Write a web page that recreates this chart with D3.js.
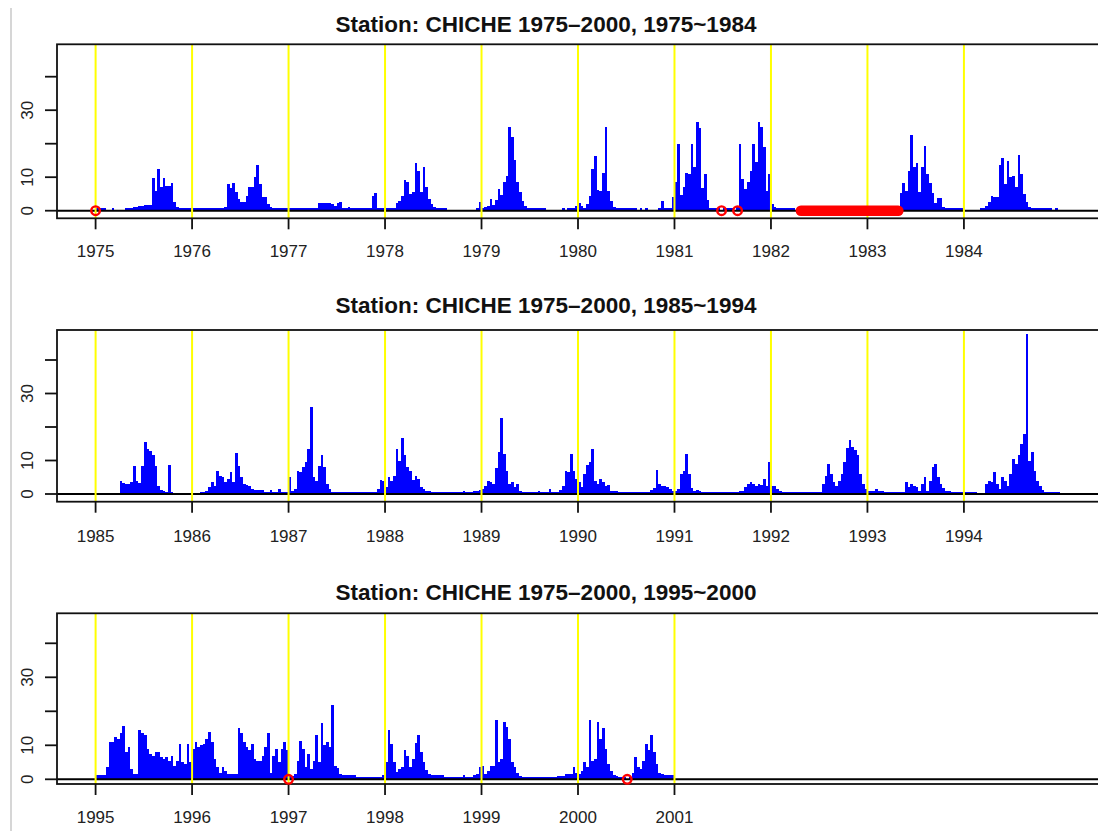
<!DOCTYPE html>
<html><head><meta charset="utf-8">
<script src="https://cdn.jsdelivr.net/npm/d3@7"></script>
<style>html,body{margin:0;padding:0;background:#fff;} svg{display:block;}</style>
</head><body>
<svg id="chart" width="1098" height="831"></svg>
<script>
// ---- data: dekadal (36 per year) rainfall; null = no record ----
const r1975 = [0,0,0,0,null,null,0.6,null,null,null,null,0.5,0.5,0.5,1.0,1.2,1.3,1.5,1.6,1.8,1.8,9.7,6,12.5,7,9.8,7.5,7.5,8.2,2.5,1.2,0.5,0.3,0.3,0.3,0.3];
const r1976 = [0,0,0,0,0,0,0,0,0,0,0.5,0.8,1.0,8.0,6.7,8.2,5.5,3.5,2.5,2.5,4.5,7.0,7.2,10.0,13.7,8.0,4.2,4.0,2.0,1.2,0.8,0.3,0,0,0,0];
const r1977 = [0.4,0.4,0.4,0.4,0.4,0.4,0.4,0.4,0.4,0.4,0.4,2.4,2.4,2.4,2.4,2.3,2.0,1.5,2.2,2.6,0.4,0.4,1.0,0.4,0.4,0.4,0.4,0.4,0.4,0.4,0.4,4.5,5.3,0.3,0.3,0.3];
const r1978 = [0.3,0.3,0.8,0.8,2.2,3.0,4.5,9.2,8.5,5.0,5.5,14.2,12.0,5.5,13.0,7.0,3.5,2.0,1.2,0.8,0.5,0.5,0.4,null,null,null,null,null,null,null,null,null,null,null,0.3,2.5];
const r1979 = [0.5,1.0,1.5,3.6,1.8,3.2,6.5,4.8,8.5,10.5,25.0,22.0,15.0,8.7,5.5,3.0,1.5,0.8,0.5,0.5,0.5,0.5,0.5,0.5,null,null,null,null,null,null,0.5,null,0.4,0.5,0.8,1.5];
const r1980 = [2.2,1.5,0.8,2.0,4.5,12.5,16.4,6.2,6.0,11.4,25.0,6.0,3.0,1.2,0.6,0.4,0.4,0.4,0.4,0.4,0.4,0.2,null,0.3,null,0.3,null,null,null,null,0.3,3.0,0.5,0.5,0.8,4.0];
const r1981 = [8.7,20.0,4.7,7.2,11.4,11.0,20.0,13.0,26.6,24.8,6.7,11.0,3.2,0.8,0.7,0.3,0.3,null,0.3,0.3,0.3,0.3,null,1.0,20.0,9.5,6.5,8.5,12.0,20.0,14.5,26.6,25.0,19.0,6.0,11.0];
const r1982 = [2.0,1.0,0.3,0.3,0.3,0.3,0.3,0.3,0.3,null,null,null,null,null,null,null,null,null,null,null,null,null,null,null,null,null,null,null,null,null,null,null,null,null,null,null];
const r1983 = [null,null,null,null,null,null,null,null,null,null,null,null,5.4,8.4,6.0,12.0,22.6,13.1,14.1,5.7,13.1,19.4,11.1,8.2,5.2,2.2,3.7,3.7,1.2,0.5,0.5,0.5,0.5,0.3,0.3,0.3];
const r1984 = [null,null,null,null,null,null,0.5,0.5,1.5,2.5,4.5,4.0,4.0,13.5,15.8,8.0,14.8,10.0,10.5,7.0,16.5,11.0,5.0,2.5,1.2,0.4,0.4,0.4,0.4,0.4,0.4,0.4,0.3,null,0.8,null];
const r1985 = [null,null,null,null,null,null,null,null,null,3.8,3.2,3.0,3.0,3.5,8.5,4.0,3.2,8.5,15.5,13.5,12.8,11.5,8.3,2.5,1.2,0.8,0.5,8.8,0.4,null,null,null,null,null,null,null];
const r1986 = [null,null,null,0.5,0.5,1.0,2.0,3.5,2.5,7.0,5.5,5.0,3.5,4.5,6.5,3.5,12.2,8.5,5.0,3.0,2.8,2.5,1.5,1.2,1.2,1.2,1.2,0.5,0.5,1.2,0.5,0.5,1.5,0.4,0.4,0.4];
const r1987 = [5.0,1.0,1.5,7.0,6.5,8.0,9.5,13.3,26.1,5.0,4.0,8.5,11.6,8.0,3.0,1.5,0.7,0.4,0.4,0.4,0.4,0.4,0.4,0.4,0.4,0.4,0.4,0.4,0.4,0.4,0.4,0.4,0.4,1.5,4.2,4.0];
const r1988 = [2.0,5.0,4.0,5.5,13.5,10.0,16.8,11.5,8.0,7.0,4.2,5.5,4.5,2.0,1.5,1.0,0.8,0.5,0.4,0.4,0.4,0.4,0.4,0.4,0.4,0.4,0.4,0.4,0.4,0.8,0.4,0.4,0.4,0.8,1.0,1.2];
const r1989 = [1.5,2.5,4.0,3.5,3.0,7.9,12.4,22.6,12.0,7.0,3.0,3.5,2.0,3.0,1.0,0.5,0.5,0.5,0.5,0.5,0.5,1.0,0.5,0.5,0.5,1.5,0.5,0.5,0.5,1.2,2.5,7.0,6.5,11.9,7.0,4.5];
const r1990 = [3.5,2.0,6.0,8.7,9.5,13.4,4.0,3.0,4.5,3.5,2.5,2.8,1.0,1.0,1.0,0.4,0.4,0.4,0.4,0.4,0.4,0.4,0.4,0.4,0.4,0.4,0.4,1.2,1.8,7.2,3.0,2.5,2.5,2.0,1.5,0.8];
const r1991 = [1.0,1.5,6.0,7.0,11.9,6.0,1.8,1.0,1.2,1.0,0.6,0.4,0.4,0.4,0.4,0.4,0.4,0.4,0.4,0.4,0.4,0.4,0.4,0.4,1.0,1.0,2.0,3.0,3.5,3.0,2.5,3.0,2.8,4.5,2.5,9.7];
const r1992 = [2.5,2.5,1.5,1.0,0.5,0.4,0.4,0.4,0.4,0.4,0.4,0.4,0.4,0.4,0.4,0.4,0.4,0.4,0.4,3.0,5.5,8.9,6.0,3.5,2.5,4.0,6.0,9.5,13.6,16.2,14.0,13.0,11.5,6.0,3.0,1.5];
const r1993 = [1.0,1.0,1.0,1.5,1.0,0.8,0.4,0.4,0.4,0.4,0.4,0.4,0.4,0.4,3.5,2.0,3.0,2.5,2.0,1.0,3.0,5.0,1.0,4.0,8.0,9.0,5.0,3.0,1.8,1.0,0.8,0.4,0.4,0.4,0.4,0.4];
const r1994 = [0.4,0.4,0.4,0.4,0.4,null,null,null,3.0,4.0,3.5,6.5,3.0,1.5,5.0,4.0,2.5,6.0,10.5,9.0,11.5,14.9,18.0,47.7,10.0,12.5,7.0,4.0,2.5,1.2,0.4,0.4,0.4,0.4,0.4,0.4];
const r1995 = [1.4,1.4,1.4,1.4,3.5,11.0,11.0,12.5,12.0,13.5,15.7,8.0,9.5,3.0,1.5,1.5,14.6,13.5,13.0,9.0,7.5,7.0,8.0,8.0,6.5,6.0,6.5,5.5,7.0,4.0,5.5,10.5,5.0,4.5,10.5,5.0];
const r1996 = [9.0,11.0,9.5,10.0,10.5,12.0,13.9,11.0,6.0,3.5,2.0,3.5,2.5,1.5,1.5,1.5,1.5,15.1,13.5,11.0,9.5,8.5,10.5,6.0,5.5,5.5,7.0,9.5,13.5,2.0,7.0,9.0,5.0,9.0,11.0,8.5];
const r1997 = [1.0,1.0,1.5,5.5,11.3,9.0,3.5,7.5,3.0,5.5,13.1,5.0,16.6,10.0,11.0,9.5,22.0,4.0,3.3,1.5,1.4,1.2,1.2,1.2,1.2,0.6,0.6,0.6,0.6,0.6,0.6,0.6,0.6,0.6,0.6,1.3];
const r1998 = [5.0,14.6,10.5,5.0,2.2,3.0,3.6,8.5,7.0,3.6,6.0,10.7,13.0,8.0,5.0,2.8,1.5,1.2,1.2,1.2,1.2,1.2,0.7,0.7,0.7,0.7,0.7,0.7,0.7,1.4,0.8,0.8,0.8,1.2,1.7,3.5];
const r1999 = [4.0,1.5,2.5,4.0,4.0,17.4,5.0,6.0,16.9,15.4,12.0,5.0,3.5,1.8,1.0,0.8,0.8,0.8,0.8,0.7,0.7,0.7,0.7,0.7,0.7,0.7,0.7,0.7,1.0,1.0,1.0,1.5,1.5,1.5,3.5,2.0];
const r2000 = [1.5,2.5,5.0,3.5,17.4,5.5,6.0,16.9,12.0,15.2,9.0,4.5,2.5,1.2,1.0,0.6,0.5,0.3,null,0.8,2.0,6.5,3.5,3.0,5.5,10.5,8.5,13.0,8.0,4.5,2.0,1.5,1.2,1.2,1.2,1.2];

const dataYears = [1975,1976,1977,1978,1979,1980,1981,1982,1983,1984,1985,1986,1987,1988,1989,1990,1991,1992,1993,1994,1995,1996,1997,1998,1999,2000];
const rainByYear = [r1975,r1976,r1977,r1978,r1979,r1980,r1981,r1982,r1983,r1984,r1985,r1986,r1987,r1988,r1989,r1990,r1991,r1992,r1993,r1994,r1995,r1996,r1997,r1998,r1999,r2000];

const panelTitles = ["Station: CHICHE 1975\u20132000, 1975~1984","Station: CHICHE 1975\u20132000, 1985~1994","Station: CHICHE 1975\u20132000, 1995~2000"];
const panelStarts = [1975, 1985, 1995];
const panelTickYears = [
  [1975,1976,1977,1978,1979,1980,1981,1982,1983,1984],
  [1985,1986,1987,1988,1989,1990,1991,1992,1993,1994],
  [1995,1996,1997,1998,1999,2000,2001]
];
const yTickValues = [0,10,20,30,40];
const yTickLabels = ["0","10","","30",""];
const missingDays = [1975.0, 1981.488, 1981.654, 1997.0, 2000.51];
const missingSpans = [[1982.31, 1983.32]];

// ---- layout (pixels) ----
const layout = [
  {top:44.3, bottom:218.3, y0:210.7, y40:76.7, titleY:31.5, labelY:257},
  {top:330,  bottom:501.7, y0:494,   y40:360,  titleY:313,  labelY:541.5},
  {top:613.3,bottom:784,   y0:779.3, y40:643.3,titleY:600,  labelY:823}
];
const LEFT = 57, RIGHT = 1099, BINS = 36;
const FONT = "'Liberation Sans', Arial, Helvetica, sans-serif";

const svg = d3.select("#chart");
svg.append("rect").attr("width",1098).attr("height",831).attr("fill","#fff");
svg.append("line").attr("x1",11).attr("x2",11).attr("y1",8).attr("y2",831)
   .attr("stroke","#d6d6d6").attr("stroke-width",2);

panelStarts.forEach((start, pi) => {
  const L = layout[pi];
  const x = d3.scaleLinear().domain([start - 0.4, start + 10.4]).range([LEFT, RIGHT]);
  const y = d3.scaleLinear().domain([0, 40]).range([L.y0, L.y40]);
  const g = svg.append("g");

  // bars
  const bars = [];
  dataYears.forEach((yr, i) => {
    if (yr < start || yr >= start + 10) return;
    rainByYear[i].forEach((v, k) => {
      if (v === null) return;
      bars.push({t0: yr + k / BINS, t1: yr + (k + 1) / BINS, v});
    });
  });
  g.append("g").attr("shape-rendering","crispEdges").selectAll("rect").data(bars).join("rect")
    .attr("x", d => x(d.t0))
    .attr("width", d => Math.max(1, x(d.t1) - x(d.t0)))
    .attr("y", d => Math.min(y(d.v), y(0) - 2.5))
    .attr("height", d => y(0) - Math.min(y(d.v), y(0) - 2.5))
    .attr("fill", "#0000ff");

  // zero line
  g.append("line").attr("x1", LEFT).attr("x2", RIGHT).attr("y1", y(0)).attr("y2", y(0))
    .attr("stroke","#000").attr("stroke-width",2);

  // yellow year lines
  g.append("g").selectAll("line").data(panelTickYears[pi]).join("line")
    .attr("x1", d => x(d)).attr("x2", d => x(d))
    .attr("y1", L.top).attr("y2", L.bottom)
    .attr("stroke","#ffff00").attr("stroke-width",2);

  // box
  g.append("rect").attr("x", LEFT).attr("y", L.top)
    .attr("width", RIGHT - LEFT).attr("height", L.bottom - L.top)
    .attr("fill","none").attr("stroke","#111").attr("stroke-width",1.8);

  // x axis ticks & labels
  g.append("g").selectAll("line").data(panelTickYears[pi]).join("line")
    .attr("x1", d => x(d)).attr("x2", d => x(d))
    .attr("y1", L.bottom).attr("y2", L.bottom + 11)
    .attr("stroke","#111").attr("stroke-width",1.8);
  g.append("g").selectAll("text").data(panelTickYears[pi]).join("text")
    .attr("x", d => x(d)).attr("y", L.labelY)
    .attr("text-anchor","middle").attr("font-family",FONT).attr("font-size",17)
    .attr("fill","#222").text(d => d);

  // y axis ticks & labels
  g.append("g").selectAll("line").data(yTickValues).join("line")
    .attr("x1", LEFT - 12).attr("x2", LEFT)
    .attr("y1", d => y(d)).attr("y2", d => y(d))
    .attr("stroke","#111").attr("stroke-width",1.8);
  g.append("g").selectAll("text").data(yTickValues).join("text")
    .attr("transform", d => `translate(33,${y(d)}) rotate(-90)`)
    .attr("text-anchor","middle").attr("font-family",FONT).attr("font-size",17)
    .attr("fill","#222").text((d, i) => yTickLabels[i]);

  // title
  g.append("text").attr("x", 546).attr("y", L.titleY)
    .attr("text-anchor","middle").attr("font-family",FONT).attr("font-size",22.5)
    .attr("font-weight","bold").attr("fill","#111").text(panelTitles[pi]);

  // missing-value markers
  missingSpans.filter(s => s[0] >= start - 0.4 && s[1] <= start + 10.4).forEach(s => {
    g.append("line").attr("x1", x(s[0])).attr("x2", x(s[1]))
      .attr("y1", y(0)).attr("y2", y(0))
      .attr("stroke","#ff0000").attr("stroke-width",10.5).attr("stroke-linecap","round");
  });
  g.append("g").selectAll("circle")
    .data(missingDays.filter(t => t >= start - 0.4 && t <= start + 10.4)).join("circle")
    .attr("cx", d => x(d)).attr("cy", y(0)).attr("r", 4.3)
    .attr("fill","none").attr("stroke","#ff0000").attr("stroke-width",2.4);
});
</script>
</body></html>
